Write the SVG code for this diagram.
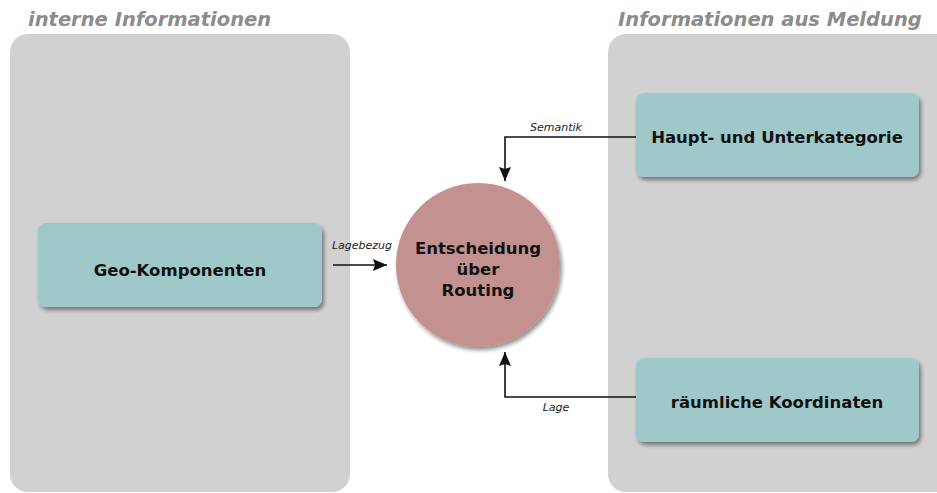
<svg xmlns="http://www.w3.org/2000/svg" width="937" height="493" viewBox="0 0 937 493">
<style>
.panel{fill:#d1d1d1}
.title{font-family:"DejaVu Sans",sans-serif;font-size:19.5px;font-weight:bold;font-style:italic;fill:#8c8c8c}
.box{fill:#9fc9c9}
.lbl{font-family:"DejaVu Sans",sans-serif;font-size:16.5px;font-weight:bold;fill:#111;text-anchor:middle}
.clbl{font-family:"DejaVu Sans",sans-serif;font-size:16.5px;font-weight:bold;fill:#111;text-anchor:middle}
.elbl{font-family:"DejaVu Sans",sans-serif;font-size:11px;font-style:italic;fill:#222;text-anchor:middle}
.edge{fill:none;stroke:#111;stroke-width:1.6}
</style>
<defs>
<marker id="arr" viewBox="0 0 14 12" refX="14" refY="6" markerWidth="14" markerHeight="12" markerUnits="userSpaceOnUse" orient="auto">
<path d="M0,0 L14,6 L0,12 L2,6 z" fill="#111"/>
</marker>
<filter id="sh" x="-10%" y="-10%" width="125%" height="135%">
<feGaussianBlur in="SourceAlpha" stdDeviation="2"/>
<feOffset dx="2" dy="3"/>
<feComponentTransfer><feFuncA type="linear" slope="0.45"/></feComponentTransfer>
<feMerge><feMergeNode/><feMergeNode in="SourceGraphic"/></feMerge>
</filter>
</defs>
<rect width="937" height="493" fill="#ffffff"/>
<g id="panel-left">
<rect class="panel" x="10" y="34" width="340" height="458" rx="18"/>
<text class="title" x="28" y="26">interne Informationen</text>
</g>
<g id="panel-right">
<rect class="panel" x="608" y="34" width="350" height="458" rx="18"/>
<text class="title" x="618" y="26">Informationen aus Meldung</text>
</g>
<g id="connectors">
<path class="edge" d="M636,137 H505 V181" marker-end="url(#arr)"/>
<text class="elbl" x="556" y="131">Semantik</text>
<path class="edge" d="M333,265 H387" marker-end="url(#arr)"/>
<text class="elbl" x="362" y="249">Lagebezug</text>
<path class="edge" d="M636,397 H505 V352" marker-end="url(#arr)"/>
<text class="elbl" x="556" y="411">Lage</text>
</g>
<g id="geo">
<rect class="box" x="38" y="223" width="284" height="84" rx="8" filter="url(#sh)"/>
<text class="lbl" x="180" y="276">Geo-Komponenten</text>
</g>
<g id="haupt">
<rect class="box" x="636" y="93" width="283" height="84" rx="8" filter="url(#sh)"/>
<text class="lbl" x="777" y="143">Haupt- und Unterkategorie</text>
</g>
<g id="raeumlich">
<rect class="box" x="636" y="358" width="283" height="84" rx="8" filter="url(#sh)"/>
<text class="lbl" x="777" y="408">räumliche Koordinaten</text>
</g>
<g id="entscheidung">
<circle cx="478" cy="265" r="82" fill="#c49191" filter="url(#sh)"/>
<text class="clbl" x="478" y="254">Entscheidung</text>
<text class="clbl" x="478" y="275">über</text>
<text class="clbl" x="478" y="296">Routing</text>
</g>
</svg>
